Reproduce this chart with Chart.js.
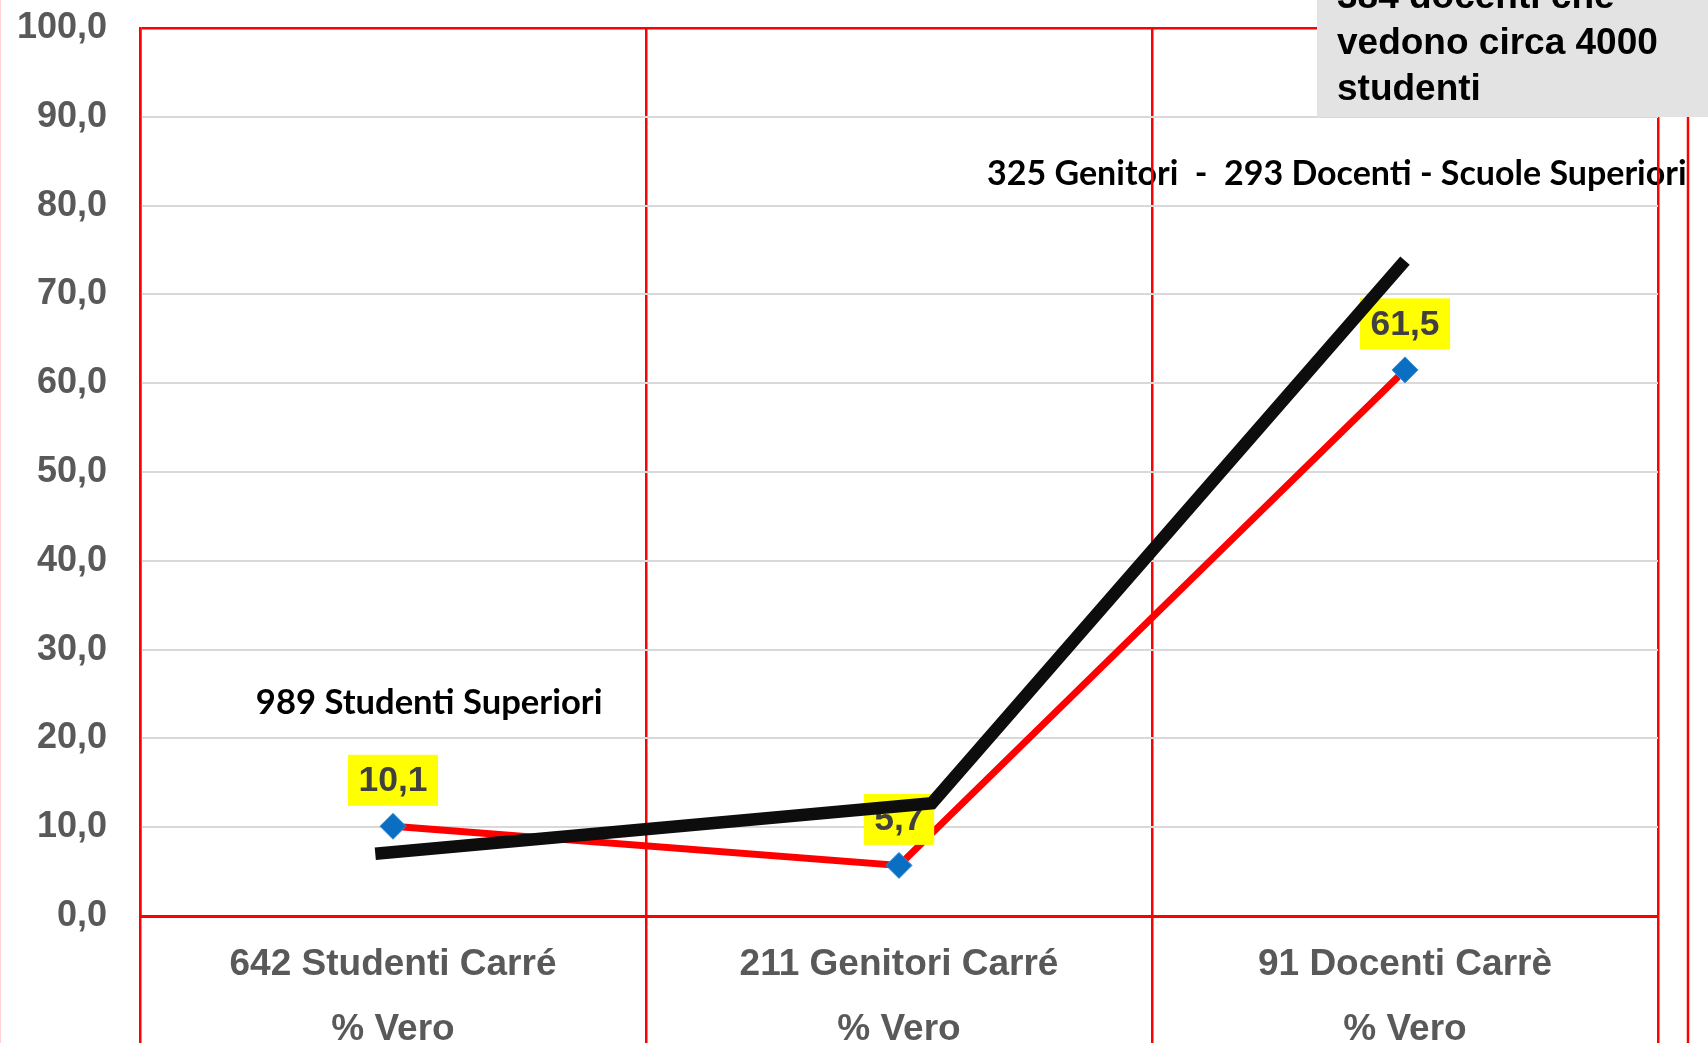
<!DOCTYPE html>
<html lang="it">
<head>
<meta charset="utf-8">
<title>% Vero – Studenti, Genitori, Docenti</title>
<script src="https://cdn.jsdelivr.net/npm/chart.js@4.4.1/dist/chart.umd.min.js"></script>
<style>
  html, body { margin: 0; padding: 0; background: #ffffff; overflow: hidden; }
  #wrap { position: relative; width: 1708px; height: 1043px; }
  canvas { display: block; }
</style>
</head>
<body>
<div id="wrap"><canvas id="chart" width="1708" height="1043"></canvas></div>
<script>
// Categories (two-line axis labels)
const categories = [
  ['642 Studenti Carré', '% Vero'],
  ['211 Genitori Carré', '% Vero'],
  ['91 Docenti Carrè', '% Vero']
];

// "% Vero" for each Carré group
const percentTrue = [10.1, 5.7, 61.5];

// Comparison line for the high-school survey (positions on the 0..2 category index axis)
const compareX = [-0.035, 1.065, 2.0];
const compareY = [7.0, 12.7, 73.8];

// Value axis
const yMin = 0;
const yMax = 100;
const yStep = 10;

// Free text notes
const noteStudents = '989 Studenti Superiori';
const noteParents = '325 Genitori  -  293 Docenti - Scuole Superiori';
const boxLines = ['384 docenti che', 'vedono circa 4000', 'studenti'];

const ARIAL = '"Liberation Sans", Arial, Helvetica, sans-serif';
const NOTE_FONT = 'Lato, "Open Sans", sans-serif';
const RED = '#ff0000';

const fmt = v => v.toFixed(1).replace('.', ',');

// Notes placed in data space, painted underneath the grid
const notesPlugin = {
  id: 'notes',
  beforeDraw(chart) {
    const { ctx } = chart;
    const xs = chart.scales.x2, ys = chart.scales.y;
    ctx.save();
    ctx.fillStyle = '#000000';
    ctx.textAlign = 'left';
    ctx.textBaseline = 'alphabetic';
    ctx.font = 'bold 34.6px ' + NOTE_FONT;
    ctx.fillText(noteStudents, xs.getPixelForValue(-0.271), ys.getPixelForValue(22.8));
    ctx.font = 'bold 34px ' + NOTE_FONT;
    ctx.fillText(noteParents, xs.getPixelForValue(1.174), ys.getPixelForValue(82.3));
    ctx.restore();
  }
};

// Yellow value tags above each point, drawn before the comparison line
const valueTagPlugin = {
  id: 'valueTags',
  afterDatasetDraw(chart, args) {
    if (args.index !== 0) return;
    const { ctx } = chart;
    ctx.save();
    ctx.font = 'bold 35.5px ' + ARIAL;
    ctx.textAlign = 'center';
    ctx.textBaseline = 'middle';
    args.meta.data.forEach((pt, i) => {
      const txt = fmt(percentTrue[i]);
      const w = ctx.measureText(txt).width + 21;
      const h = 51;
      const cy = pt.y - 46;
      ctx.fillStyle = '#ffff00';
      ctx.fillRect(pt.x - w / 2, cy - h / 2, w, h);
      ctx.fillStyle = '#404040';
      ctx.fillText(txt, pt.x, cy + 1);
    });
    ctx.restore();
  }
};

// Slide frame line and the grey caption box in the top-right corner
const framePlugin = {
  id: 'frame',
  afterDraw(chart) {
    const { ctx, width, height } = chart;
    ctx.save();
    // faint left edge
    ctx.strokeStyle = 'rgba(255,0,0,0.18)';
    ctx.lineWidth = 1;
    ctx.beginPath(); ctx.moveTo(0.5, 0); ctx.lineTo(0.5, height); ctx.stroke();
    // outer frame line on the right
    ctx.strokeStyle = RED;
    ctx.lineWidth = 2.5;
    ctx.beginPath(); ctx.moveTo(width - 20, 100); ctx.lineTo(width - 20, height); ctx.stroke();
    // caption box
    const bx = 1317, by = 0, bh = 117;
    ctx.fillStyle = '#e3e3e3';
    ctx.fillRect(bx, by, width - bx, bh);
    ctx.fillStyle = '#000000';
    ctx.font = 'bold 37px ' + ARIAL;
    ctx.textAlign = 'left';
    ctx.textBaseline = 'alphabetic';
    const baselines = [8, 54, 100];
    boxLines.forEach((t, i) => ctx.fillText(t, bx + 20, baselines[i]));
    ctx.restore();
  }
};

new Chart(document.getElementById('chart'), {
  type: 'line',
  data: {
    labels: categories,
    datasets: [
      {
        label: '% Vero',
        data: percentTrue,
        xAxisID: 'x',
        yAxisID: 'y',
        order: 1,
        borderColor: RED,
        borderWidth: 7,
        tension: 0,
        fill: false,
        pointStyle: 'rectRot',
        pointRadius: 13,
        pointHoverRadius: 13,
        pointBackgroundColor: '#0a6fc2',
        pointBorderColor: '#3a8fd6',
        pointBorderWidth: 1
      },
      {
        label: 'Scuole Superiori',
        data: compareX.map((x, i) => ({ x, y: compareY[i] })),
        xAxisID: 'x2',
        yAxisID: 'y',
        order: 0,
        borderColor: '#0d0d0d',
        borderWidth: 12.5,
        borderCapStyle: 'butt',
        borderJoinStyle: 'miter',
        tension: 0,
        fill: false,
        pointRadius: 0,
        pointHoverRadius: 0
      }
    ]
  },
  options: {
    responsive: false,
    animation: false,
    devicePixelRatio: 1,
    events: [],
    layout: { padding: { top: 28, right: 50, left: 0, bottom: 0 } },
    plugins: {
      legend: { display: false },
      tooltip: { enabled: false },
      title: { display: false }
    },
    scales: {
      x: {
        type: 'category',
        position: 'bottom',
        offset: true,
        afterFit: s => { s.height = 127; s.paddingLeft = 0; s.paddingRight = 0; },
        grid: {
          offset: true,
          color: RED,
          lineWidth: 2.5,
          drawTicks: true,
          tickLength: 127
        },
        border: { display: true, color: RED, width: 3 },
        ticks: {
          color: '#595959',
          padding: -110.5,
          maxRotation: 0,
          minRotation: 0,
          autoSkip: false,
          font: { family: ARIAL, size: 37, weight: 'bold', lineHeight: '65px' }
        }
      },
      x2: {
        type: 'linear',
        position: 'bottom',
        display: false,
        min: -0.5,
        max: 2.5
      },
      y: {
        type: 'linear',
        position: 'left',
        min: yMin,
        max: yMax,
        afterFit: s => { s.width = 140; s.paddingTop = 0; s.paddingBottom = 0; },
        grid: {
          drawTicks: false,
          color: c => (c.tick.value === yMin || c.tick.value === yMax) ? RED : '#d9d9d9',
          lineWidth: c => (c.tick.value === yMin) ? 3 : (c.tick.value === yMax ? 2.5 : 2)
        },
        border: { display: true, color: RED, width: 2.5 },
        ticks: {
          stepSize: yStep,
          padding: 33,
          color: '#595959',
          font: { family: ARIAL, size: 36, weight: 'bold' },
          callback: v => fmt(v)
        }
      }
    }
  },
  plugins: [notesPlugin, valueTagPlugin, framePlugin]
});
</script>
</body>
</html>
